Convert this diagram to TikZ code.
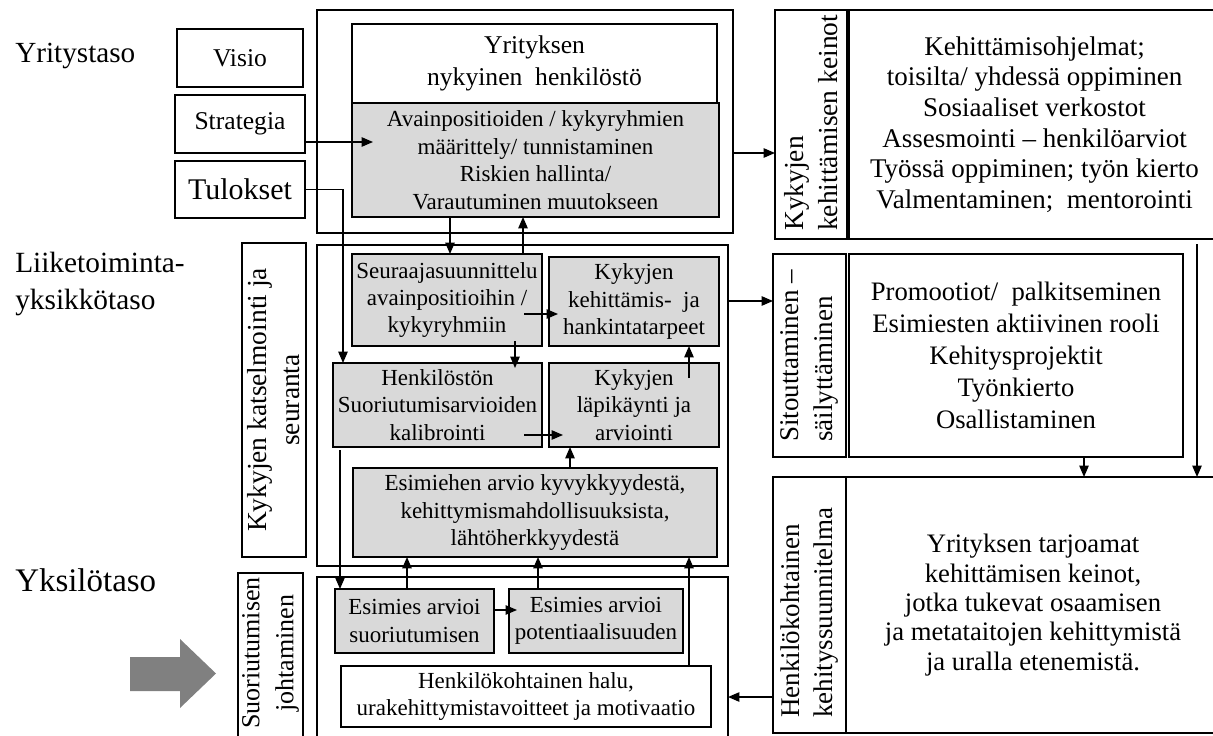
\documentclass[tikz,border=0pt]{standalone}
\usepackage{fontspec}
\setmainfont{Liberation Serif}
\usetikzlibrary{arrows.meta,calc}
\definecolor{boxgray}{HTML}{D9D9D9}
\definecolor{blockgray}{HTML}{808080}

% font size helper: size and baselineskip in pt
\newcommand\setfs[2]{\fontsize{#1}{#2}\selectfont}
% box from corner (x1,y1) to (x2,y2): name, x1, y1, x2, y2, style, text
\newcommand\mkbox[7]{%
  \node[#6, minimum width={((#4)-(#2))*0.75pt}, minimum height={((#5)-(#3))*0.75pt}]
    (#1) at ({((#2)+(#4))/2},{((#3)+(#5))/2}) {#7};}

\tikzset{
  frame/.style={draw, line width=2.2pt, inner sep=0pt, outer sep=0pt},
  plain/.style={draw, line width=1.3pt, inner sep=0pt, outer sep=0pt, align=center},
  grey/.style={plain, fill=boxgray},
  ctext/.style={font=\setfs{17.25}{20.6}},
  vtext/.style={rotate=90, inner sep=0pt, align=left},
  lvl/.style={inner sep=0pt, anchor=west, align=left},
  arr/.style={line width=1.1pt, -{Triangle[length=8.5pt,width=7pt]}},
}

\begin{document}
\begin{tikzpicture}[x=0.75pt, y=-0.75pt]
\useasboundingbox (0,0) rectangle (1213,735);
\clip (0,0) rectangle (1213,735);

% level labels
\node[lvl, font=\setfs{21.9}{26}] (lvlcorp) at (15,56) {Yritystaso};
\node[lvl, font=\setfs{22}{27.5}] (lvlunit) at (15,284) {Liiketoiminta-\\yksikkötaso};
\node[lvl, font=\setfs{24.7}{28}] (lvlind) at (15,580) {Yksilötaso};

% block arrow
\fill[blockgray] (130,657) -- (180,657) -- (180,639) -- (216,673.5)
  -- (180,708) -- (180,691) -- (130,691) -- cycle;

% inputs
\mkbox{visio}{177}{29}{303}{87}{plain, font=\setfs{19.2}{22}}{Visio}
\mkbox{strat}{175}{95}{305}{153}{plain, font=\setfs{19.2}{22}}{Strategia}
\mkbox{tul}{175}{161}{305}{218}{plain, font=\setfs{22.5}{26}}{Tulokset}

% corporate level
\mkbox{topf}{317}{10}{733}{233}{frame}{}
\mkbox{staff}{352}{24}{717}{103}{plain, font=\setfs{19.2}{24}}{Yrityksen\\nykyinen\ \ henkilöstö}
\mkbox{key}{352}{103}{719}{217}{grey, ctext}{Avainpositioiden / kykyryhmien\\määrittely/ tunnistaminen\\Riskien hallinta/\\Varautuminen muutokseen}

% business unit level
\mkbox{midf}{317}{245}{728}{566}{frame}{}
\mkbox{succ}{352}{254}{542}{346}{grey, ctext}{Seuraajasuunnittelu\\avainpositioihin /\\kykyryhmiin}
\mkbox{needs}{549}{257}{719}{346}{grey, ctext}{Kykyjen\\kehittämis-\ \ ja\\hankintatarpeet}
\mkbox{calib}{333}{363}{542}{447}{grey, ctext}{Henkilöstön\\Suoriutumisarvioiden\\kalibrointi}
\mkbox{review}{549}{363}{719}{447}{grey, ctext}{Kykyjen\\läpikäynti ja\\arviointi}
\mkbox{boss}{353}{468}{717}{557}{grey, ctext}{Esimiehen arvio kyvykkyydestä,\\kehittymismahdollisuuksista,\\lähtöherkkyydestä}

% individual level
\mkbox{botf}{317}{577}{728}{750}{frame}{}
\mkbox{perf}{335}{589}{494}{653}{grey, ctext}{Esimies arvioi\\suoriutumisen}
\mkbox{pot}{509}{589}{683}{653}{grey, ctext}{Esimies arvioi\\potentiaalisuuden}
\mkbox{will}{341}{666}{711}{727}{plain, ctext}{Henkilökohtainen halu,\\urakehittymistavoitteet ja motivaatio}

% left side labels
\mkbox{monb}{242}{243}{306}{557}{plain}{}
\node[vtext, align=center, font=\setfs{20.6}{24.75}] (mont) at (monb.center) {Kykyjen katselmointi ja\\seuranta};
\mkbox{pmb}{238}{573}{303}{750}{plain}{}
\node[vtext, align=center, font=\setfs{19.5}{25.5}] (pmt) at (pmb.center |- 0,653) {Suoriutumisen\\johtaminen};

% right side
\mkbox{devb}{775}{10}{847}{239}{plain}{}
\node[vtext, anchor=west, font=\setfs{20.6}{26}] (devt) at (devb.center |- 0,231) {Kykyjen\\kehittämisen keinot};
\mkbox{devc}{849}{10}{1220}{239}{plain, font=\setfs{20.25}{23}}{Kehittämisohjelmat;\\toisilta/ yhdessä oppiminen\\Sosiaaliset verkostot\\Assesmointi – henkilöarviot\\Työssä oppiminen; työn kierto\\Valmentaminen;\ \ mentorointi}

\mkbox{retb}{773}{254}{846}{457}{plain}{}
\node[vtext, anchor=west, font=\setfs{20.25}{26}] (rett) at (retb.center |- 0,442) {Sitouttaminen –\\säilyttäminen};
\mkbox{retc}{849}{254}{1183}{457}{plain, font=\setfs{20}{24}}{Promootiot/\ \ palkitseminen\\Esimiesten aktiivinen rooli\\Kehitysprojektit\\Työnkierto\\Osallistaminen}

\mkbox{pdpb}{773}{477}{846}{733}{plain}{}
\node[vtext, anchor=west, font=\setfs{20.25}{25}] (pdpt) at (pdpb.center |- 0,718) {Henkilökohtainen\\kehityssuunnitelma};
\mkbox{pdpc}{846}{477}{1220}{733}{plain, font=\setfs{20}{22}}{Yrityksen tarjoamat\\kehittämisen keinot,\\jotka tukevat osaamisen\\ja metataitojen kehittymistä\\ja uralla etenemistä.}

% connectors
\draw[arr] (strat.east |- 0,142) -- ($(key.west |- 0,142)+(21,0)$);
\draw[arr] (tul.east) -| (calib.north -| 343,0);
\draw[arr] (topf.east |- 0,153) -- (devb.west |- 0,153);
\draw[arr] (key.south -| 450,0) -- (succ.north -| 450,0);
\draw[arr] (succ.north -| 523,0) -- (key.south -| 523,0);
\draw[arr] ($(succ.east |- 0,314)+(-18,0)$) -- ($(needs.west |- 0,314)+(9,0)$);
\draw[arr] ($(succ.south -| 515,0)+(0,-5)$) -- ($(calib.north -| 515,0)+(0,5)$);
\draw[arr] ($(calib.east |- 0,435)+(-18,0)$) -- ($(review.west |- 0,435)+(14,0)$);
\draw[arr] ($(review.north -| 689,0)+(0,15)$) -- (needs.south -| 689,0);
\draw[arr] (boss.north -| 570,0) -- (review.south -| 570,0);
\draw[arr] (midf.east |- 0,301) -- (retb.west |- 0,301);
\draw[arr] ($(calib.south -| 340,0)+(0,3)$) -- (perf.north -| 340,0);
\draw[arr] (perf.north -| 407,0) -- (boss.south -| 407,0);
\draw[arr] (pot.north -| 538,0) -- (boss.south -| 538,0);
\draw[arr] (perf.east |- 0,610) -- ($(pot.west |- 0,610)+(8,0)$);
\draw[arr] (will.north -| 689,0) -- (boss.south -| 689,0);
\draw[arr] (retc.south -| 1084,0) -- (pdpc.north -| 1084,0);
\draw[arr] ($(devc.south -| 1197,0)+(0,5)$) -- (pdpc.north -| 1197,0);
\draw[arr] (pdpb.west |- 0,697) -- (botf.east |- 0,697);
\end{tikzpicture}
\end{document}
